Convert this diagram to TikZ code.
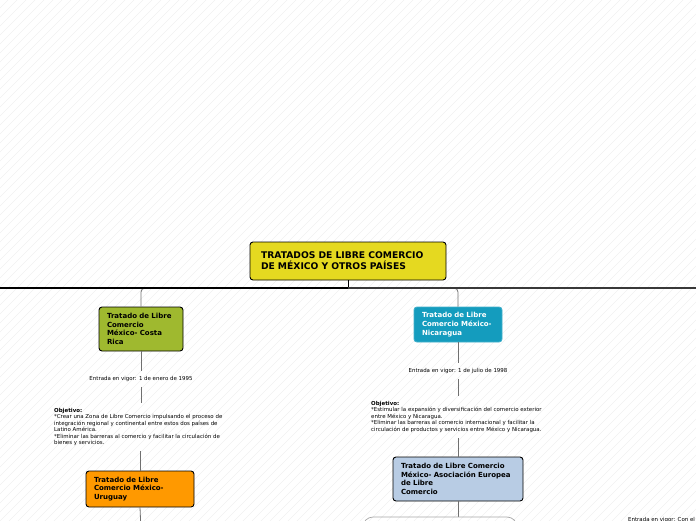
\documentclass[tikz,border=0pt]{standalone}
\usepackage{fontspec}
\setmainfont{DejaVu Sans}
\definecolor{rootyel}{HTML}{E5D920}
\definecolor{olivegr}{HTML}{9FB92F}
\definecolor{tealbx}{HTML}{149CBE}
\definecolor{orangebx}{HTML}{FF9900}
\definecolor{lightbl}{HTML}{B8CCE4}
\definecolor{hatch}{HTML}{F0F0F0}
\definecolor{connc}{HTML}{707070}
\begin{document}
\begin{tikzpicture}[x=1pt,y=-1pt,
  bx/.style={draw=black, line width=0.9pt, rounded corners=3pt, inner ysep=0pt, inner xsep=8pt, align=left,
    font=\fontsize{7}{8.7}\selectfont\bfseries},
  smalltxt/.style={inner sep=5pt, font=\fontsize{5.45}{6.5}\selectfont, align=left},
  conn/.style={draw=connc, line width=0.8pt},
]
\useasboundingbox (0,0) rectangle (696,520);
\begin{scope}
\clip (0,0) rectangle (696,520);
\foreach \i in {-540,-531,...,700} {
  \draw[hatch, line width=0.6pt] (\i,530) -- ++(540,-540);
}
\end{scope}

% root
\node[bx, fill=rootyel, minimum width=196pt, minimum height=38pt, text width=174pt, inner xsep=11pt,
  font=\fontsize{9.2}{11}\selectfont\bfseries] (root) at (348,261)
  {TRATADOS DE LIBRE COMERCIO\\DE MÉXICO Y OTROS PAÍSES};

\coordinate (bar) at (348,288);
\coordinate (barL) at (0,288);
\coordinate (barR) at (696,288);

% left branch
\node[bx, fill=olivegr, minimum width=84pt, minimum height=44pt, text width=68pt] (cr) at (141,329)
  {Tratado de Libre\\Comercio\\México- Costa\\Rica};
\node[smalltxt] (e1) at (141,379) {Entrada en vigor: 1 de enero de 1995};
\node[smalltxt, anchor=north west] (o1) at (49,403)
  {\textbf{Objetivo:}\\*Crear una Zona de Libre Comercio impulsando el proceso de\\integración regional y continental entre estos dos países de\\Latino América.\\*Eliminar las barreras al comercio y facilitar la circulación de\\bienes y servicios.};
\node[bx, fill=orangebx, minimum width=108pt, minimum height=36pt, text width=92pt] (uru) at (140,489)
  {Tratado de Libre\\Comercio México-\\Uruguay};
\coordinate (uruend) at (141,530);

% right branch
\node[bx, draw=tealbx!80!white, fill=tealbx, text=white, minimum width=88pt, minimum height=35pt, text width=72pt] (nic) at (458,324.5)
  {Tratado de Libre\\Comercio México-\\Nicaragua};
\node[smalltxt] (e2) at (458,371) {Entrada en vigor: 1 de julio de 1998};
\node[smalltxt, anchor=north west] (o2) at (366,396)
  {\textbf{Objetivo:}\\*Estimular la expansión y diversificación del comercio exterior\\entre México y Nicaragua.\\*Eliminar las barreras al comercio internacional y facilitar la\\circulación de productos y servicios entre México y Nicaragua.};
\node[bx, fill=lightbl, minimum width=130pt, minimum height=44pt, text width=114pt] (efta) at (458,479)
  {Tratado de Libre Comercio\\México- Asociación Europea\\de Libre\\Comercio};
\coordinate (ej) at (458,517);
\coordinate (eL) at (363,532);
\coordinate (eR) at (517,532);

\node[smalltxt, inner sep=0pt, anchor=base west] (e3) at (628,521.5) {Entrada en vigor: Con el};

% connectors
\draw[conn, rounded corners=4pt] (cr.north) |- (bar);
\draw[conn, rounded corners=4pt] (nic.north) |- (bar);
\draw[conn] (cr.south) -- (e1.north);
\draw[conn] (e1.south) -- (e1.south |- o1.north);
\draw[conn] (uru.north) -- (uru.north |- o1.south);
\draw[conn] (uru.south) -- (uruend);
\draw[conn] (nic.south) -- (e2.north);
\draw[conn] (e2.south) -- (e2.south |- o2.north);
\draw[conn] (efta.north) -- (efta.north |- o2.south);
\draw[conn] (efta.south) -- (ej);
\draw[draw=gray!70, line width=0.7pt, rounded corners=10pt] (eL) |- (ej) -| (eR);
\draw[line width=1pt, black] (root.south) -- (bar);
\draw[line width=2pt, black] (barL) -- (bar);
\draw[line width=2pt, black!78] (bar) -- (barR);
\end{tikzpicture}
\end{document}
